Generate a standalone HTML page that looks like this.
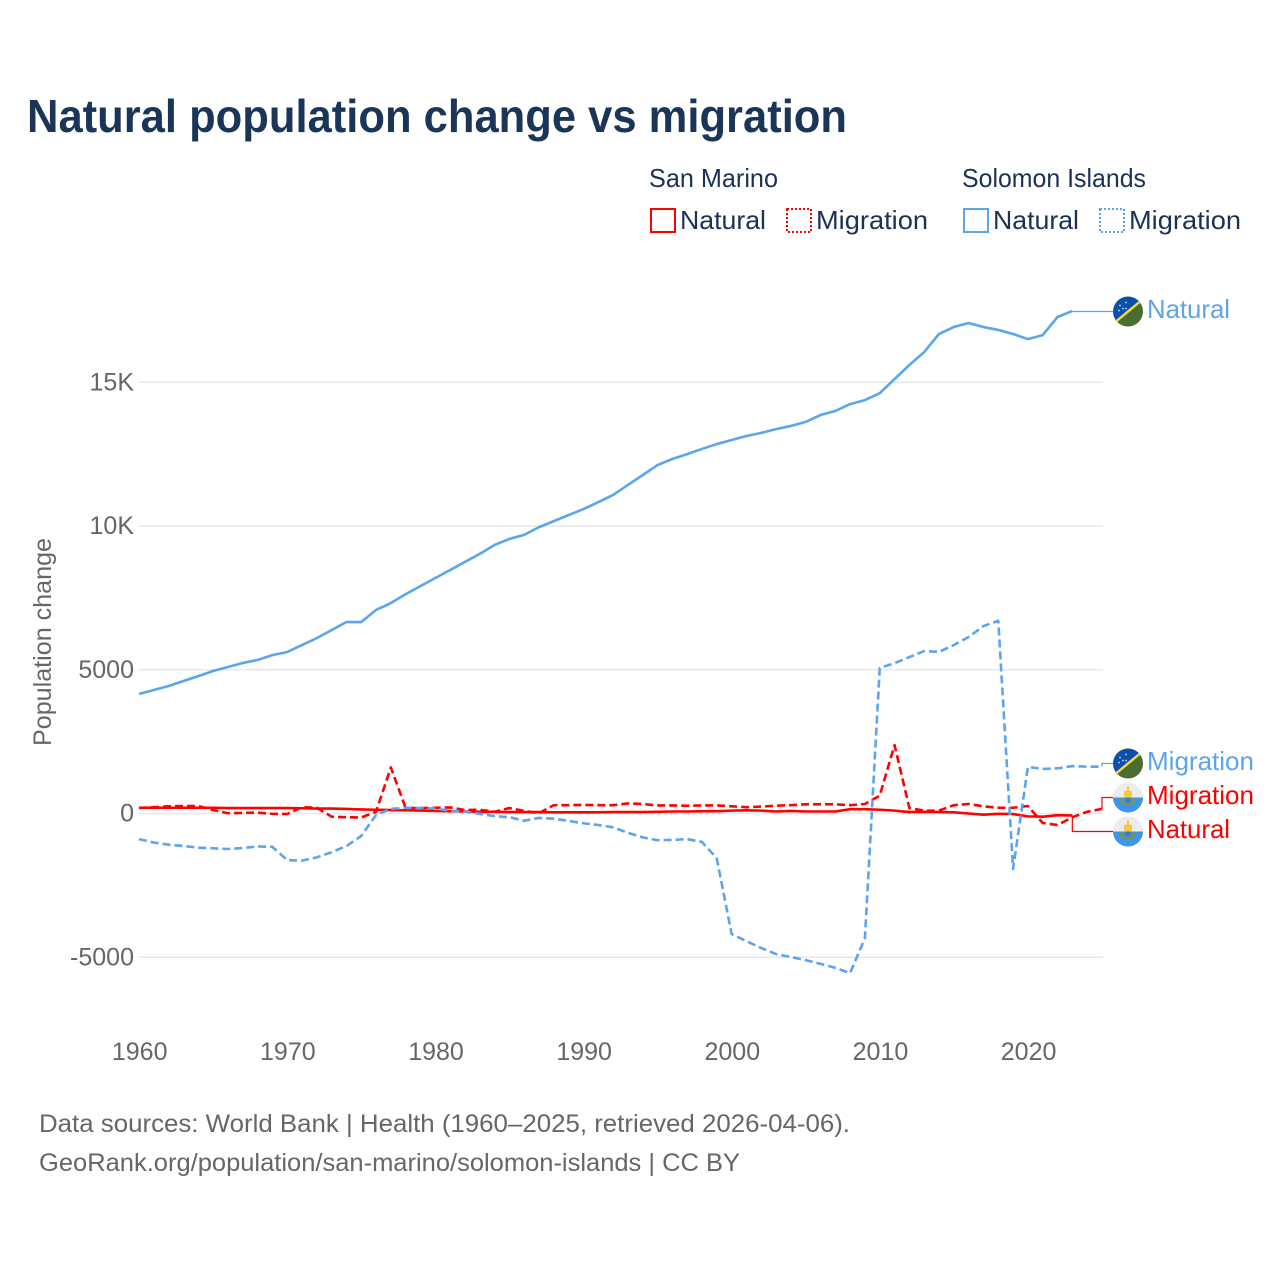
<!DOCTYPE html>
<html lang="en">
<head>
<meta charset="utf-8">
<title>Natural population change vs migration</title>
<style>
html,body{margin:0;padding:0;background:#fff;}
svg{display:block;font-family:"Liberation Sans",sans-serif;}
</style>
</head>
<body>
<svg id="chart" xmlns="http://www.w3.org/2000/svg" width="1280" height="1280" viewBox="0 0 1280 1280">
  <defs>
    <g id="flag-sb">
      <circle r="15" fill="#4a6e2f"/>
      <path d="M-11.52 9.6 A15 15 0 0 1 11.52 -9.6 Z" fill="#0a4fae"/>
      <line x1="-11.52" y1="9.6" x2="11.52" y2="-9.6" stroke="#f5d742" stroke-width="2.5"/>
      <g fill="#cfe0f5"><circle cx="-8" cy="-6" r="0.9"/><circle cx="-2" cy="-9" r="0.9"/><circle cx="-5" cy="-3" r="0.9"/><circle cx="-9" cy="-1" r="0.9"/><circle cx="-2" cy="-3" r="0.9"/></g>
    </g>
    <g id="flag-sm">
      <circle r="15" fill="#ececec"/>
      <path d="M-15 0 H15 A15 15 0 0 1 -15 0 Z" fill="#3d94ee"/>
      <path d="M-7 -2 A7 7 0 0 0 7 -2" transform="translate(0,2)" fill="none" stroke="#7d9440" stroke-width="2.5"/>
      <rect x="-4" y="-7" width="8" height="7" rx="2" fill="#f6c83c"/>
      <rect x="-3" y="0" width="6" height="5" rx="2" fill="#3d7fc0"/>
      <rect x="-1" y="-11" width="2" height="5" fill="#f6c83c"/>
    </g>
  </defs>
  <rect x="0" y="0" width="1280" height="1280" fill="#ffffff"/>
  <text x="27" y="132" font-size="46" font-weight="700" fill="#1a3557" textLength="820" lengthAdjust="spacingAndGlyphs">Natural population change vs migration</text>

  <g font-size="26" fill="#1b3155">
    <text x="649" y="187" textLength="129" lengthAdjust="spacingAndGlyphs">San Marino</text>
    <text x="962" y="187" textLength="184" lengthAdjust="spacingAndGlyphs">Solomon Islands</text>
    <g>
      <rect x="651" y="209" width="24" height="23" fill="none" stroke="#ff0000" stroke-width="2" shape-rendering="crispEdges"/>
      <text x="680" y="229" textLength="86" lengthAdjust="spacingAndGlyphs">Natural</text>
    </g>
    <g>
      <rect x="787" y="209" width="24" height="23" fill="none" stroke="#ff0000" stroke-width="2" stroke-dasharray="2 2" shape-rendering="crispEdges"/>
      <text x="816" y="229" textLength="112" lengthAdjust="spacingAndGlyphs">Migration</text>
    </g>
    <g>
      <rect x="964" y="209" width="24" height="23" fill="none" stroke="#5ba4ee" stroke-width="2" shape-rendering="crispEdges"/>
      <text x="993" y="229" textLength="86" lengthAdjust="spacingAndGlyphs">Natural</text>
    </g>
    <g>
      <rect x="1100" y="209" width="24" height="23" fill="none" stroke="#5ba4ee" stroke-width="2" stroke-dasharray="2 2" shape-rendering="crispEdges"/>
      <text x="1129" y="229" textLength="112" lengthAdjust="spacingAndGlyphs">Migration</text>
    </g>
  </g>

  <g id="grid"></g>
  <g id="y-axis"></g>
  <g id="x-axis"></g>
  <text transform="translate(51,642) rotate(-90)" text-anchor="middle" font-size="25" fill="#666666" textLength="208" lengthAdjust="spacingAndGlyphs">Population change</text>
  <g id="series"></g>

  <use href="#flag-sb" transform="translate(1128,311.5)"/>
  <use href="#flag-sb" transform="translate(1128,763.5)"/>
  <use href="#flag-sm" transform="translate(1128,797.5)"/>
  <use href="#flag-sm" transform="translate(1128,831.5)"/>

  <g font-size="26">
    <text x="1147" y="318" fill="#5ba4ee" textLength="83" lengthAdjust="spacingAndGlyphs">Natural</text>
    <text x="1147" y="770" fill="#5ba4ee" textLength="107" lengthAdjust="spacingAndGlyphs">Migration</text>
    <text x="1147" y="804" fill="#ff0000" textLength="107" lengthAdjust="spacingAndGlyphs">Migration</text>
    <text x="1147" y="838" fill="#ff0000" textLength="83" lengthAdjust="spacingAndGlyphs">Natural</text>
  </g>

  <g font-size="25" fill="#666666">
    <text x="39" y="1132" textLength="811" lengthAdjust="spacingAndGlyphs">Data sources: World Bank | Health (1960–2025, retrieved 2026-04-06).</text>
    <text x="39" y="1171" textLength="701" lengthAdjust="spacingAndGlyphs">GeoRank.org/population/san-marino/solomon-islands | CC BY</text>
  </g>
</svg>
<script>
const years = [1960,1961,1962,1963,1964,1965,1966,1967,1968,1969,1970,1971,1972,1973,1974,1975,1976,1977,1978,1979,1980,1981,1982,1983,1984,1985,1986,1987,1988,1989,1990,1991,1992,1993,1994,1995,1996,1997,1998,1999,2000,2001,2002,2003,2004,2005,2006,2007,2008,2009,2010,2011,2012,2013,2014,2015,2016,2017,2018,2019,2020,2021,2022,2023,2024,2025];
const sanMarinoNatural = [200,200,200,200,200,200,190,190,190,190,190,180,170,170,160,140,130,120,110,100,90,80,70,60,60,50,50,50,40,40,40,40,50,50,50,60,70,70,80,80,100,110,100,70,90,70,70,70,150,150,130,100,50,60,50,40,0,-40,-10,-20,-100,-110,-60,-70];
const sanMarinoMigration = [190,220,250,260,260,120,10,20,30,-10,-20,220,200,-110,-130,-140,60,1600,190,190,200,210,120,130,60,190,90,10,290,290,300,290,290,350,330,280,280,270,280,280,250,220,240,270,290,320,320,320,290,330,620,2380,190,100,100,290,330,250,200,200,260,-330,-400,-130,60,160];
const solomonNatural = [4157,4296,4435,4609,4780,4956,5096,5235,5340,5510,5617,5860,6100,6380,6660,6660,7080,7320,7630,7910,8190,8470,8750,9030,9340,9550,9690,9960,10170,10380,10590,10830,11080,11430,11770,12120,12330,12500,12680,12850,12990,13130,13240,13370,13480,13620,13860,14000,14240,14380,14620,15110,15600,16050,16680,16920,17060,16920,16820,16680,16500,16640,17270,17480];
const solomonMigration = [-890,-1010,-1085,-1130,-1190,-1210,-1235,-1200,-1145,-1160,-1620,-1640,-1525,-1350,-1130,-780,-50,160,200,190,170,100,60,-10,-90,-130,-250,-155,-180,-260,-340,-400,-480,-670,-830,-930,-920,-890,-990,-1560,-4190,-4440,-4680,-4890,-4990,-5100,-5230,-5370,-5550,-4330,5060,5230,5440,5650,5620,5860,6140,6520,6700,-1930,1620,1550,1570,1650,1630,1630];
const yTicks = [15000,10000,5000,0,-5000];
const yTickLabels = ["15K","10K","5000","0","-5000"];
const xTicks = [1960,1970,1980,1990,2000,2010,2020];
const xTickLabels = ["1960","1970","1980","1990","2000","2010","2020"];

const SVG_NS = "http://www.w3.org/2000/svg";
const plotLeft = 139, plotRight = 1103;
const RED = "#ff0000", BLUE = "#5ba4ee";
function xScale(year){ return 139 + (year - 1960) * 14.815; }
function yScale(value){ return 813.5 - value * 0.02875; }
function make(tag, parent){
  const el = document.createElementNS(SVG_NS, tag);
  parent.appendChild(el);
  return el;
}
function pathFor(values){
  return values.map((v, i) => (i ? "L" : "M") + xScale(years[i]).toFixed(2) + " " + yScale(v).toFixed(2)).join(" ");
}
const grid = document.getElementById("grid");
const yAxis = document.getElementById("y-axis");
const xAxis = document.getElementById("x-axis");
const seriesGroup = document.getElementById("series");

yTicks.forEach((t, i) => {
  const line = make("line", grid);
  
  
  line.setAttribute("x1", plotLeft);
  line.setAttribute("x2", plotRight);
  line.setAttribute("y1", yScale(t));
  line.setAttribute("y2", yScale(t));
  line.setAttribute("stroke", "#e8e8e8");
  line.setAttribute("stroke-width", "1.5");
  const label = make("text", yAxis);
  
  
  label.setAttribute("x", 134);
  label.setAttribute("y", yScale(t) + 8);
  label.setAttribute("text-anchor", "end");
  label.setAttribute("font-size", "25");
  label.setAttribute("fill", "#666666");
  label.textContent = yTickLabels[i];
});
xTicks.forEach((t, i) => {
  const label = make("text", xAxis);
  
  
  label.setAttribute("x", xScale(t) + 0.7);
  label.setAttribute("y", 1060);
  label.setAttribute("text-anchor", "middle");
  label.setAttribute("font-size", "25");
  label.setAttribute("fill", "#666666");
  label.textContent = xTickLabels[i];
});

function drawLeader(values, flagY, color){
  const last = values.length - 1;
  const ex = xScale(years[last]);
  const ey = yScale(values[last]);
  const leader = make("path", seriesGroup);
  
  
  leader.setAttribute("d", "M" + ex + " " + ey + " L" + ex + " " + flagY + " L1113 " + flagY);
  leader.setAttribute("fill", "none");
  leader.setAttribute("stroke", color);
  leader.setAttribute("stroke-width", "1.2");
}
function drawLine(values, color, dash){
  const line = make("path", seriesGroup);
  
  
  line.setAttribute("d", pathFor(values));
  line.setAttribute("fill", "none");
  line.setAttribute("stroke", color);
  line.setAttribute("stroke-width", "2.6");
  line.setAttribute("stroke-linejoin", "round");
  if (dash) line.setAttribute("stroke-dasharray", dash);
}
drawLeader(sanMarinoNatural, 831.5, RED);
drawLeader(sanMarinoMigration, 797.5, RED);
drawLeader(solomonNatural, 311.5, BLUE);
drawLeader(solomonMigration, 763.5, BLUE);
drawLine(sanMarinoNatural, RED, null);
drawLine(sanMarinoMigration, RED, "8 4");
drawLine(solomonNatural, BLUE, null);
drawLine(solomonMigration, BLUE, "8 4");
</script>
</body>
</html>
